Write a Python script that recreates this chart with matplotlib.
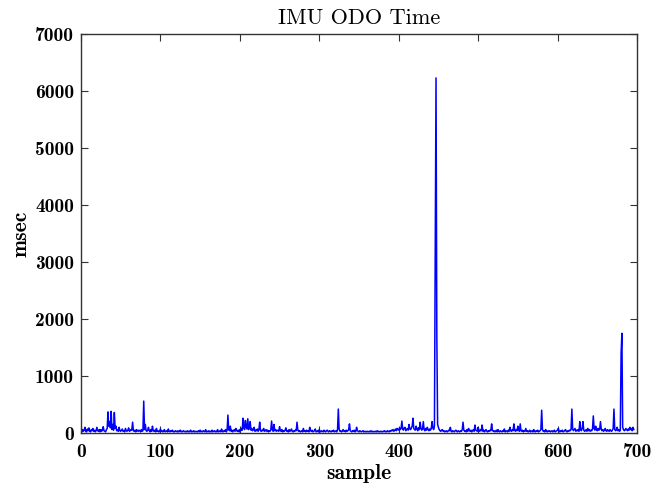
import matplotlib
matplotlib.use("Agg")
import matplotlib.pyplot as plt
import numpy as np

title = "IMU ODO Time"
xlabel = "sample"
ylabel = "msec"
xticks = [0, 100, 200, 300, 400, 500, 600, 700]
yticks = [0, 1000, 2000, 3000, 4000, 5000, 6000, 7000]

msec = [
    40, 20, 60, 30, 50, 100, 30, 20, 70, 40, 90, 30, 20, 60, 40, 80, 30, 50, 20, 40,
    100, 40, 30, 60, 20, 60, 30, 50, 110, 40, 30, 20, 60, 80, 370, 120, 200, 90, 380, 60,
    150, 50, 360, 80, 120, 40, 60, 30, 100, 40, 30, 50, 70, 30, 40, 20, 80, 40, 30, 50,
    90, 30, 40, 60, 50, 190, 40, 30, 50, 20, 60, 40, 30, 50, 40, 20, 60, 30, 40, 560,
    60, 150, 40, 30, 50, 100, 40, 20, 60, 30, 120, 40, 30, 50, 20, 80, 30, 40, 20, 30,
    70, 30, 40, 20, 30, 60, 20, 30, 40, 20, 70, 30, 20, 40, 30, 50, 20, 30, 20, 40,
    30, 20, 40, 20, 30, 50, 20, 30, 20, 40, 30, 20, 30, 20, 40, 20, 30, 20, 50, 20,
    30, 20, 40, 20, 30, 20, 30, 20, 40, 20, 50, 20, 30, 20, 40, 30, 20, 60, 20, 30,
    20, 40, 20, 30, 20, 50, 20, 30, 40, 20, 30, 20, 60, 20, 30, 40, 20, 70, 30, 20,
    40, 30, 60, 20, 50, 315, 60, 40, 120, 30, 50, 20, 40, 60, 30, 80, 40, 30, 50, 20,
    60, 40, 80, 50, 260, 90, 60, 220, 100, 70, 250, 60, 90, 200, 50, 80, 40, 60, 100, 30,
    50, 40, 70, 30, 60, 190, 40, 30, 50, 40, 80, 30, 40, 60, 30, 50, 20, 40, 30, 60,
    210, 50, 30, 150, 40, 60, 30, 50, 40, 30, 110, 40, 30, 60, 20, 40, 30, 50, 90, 30,
    40, 20, 60, 30, 40, 70, 30, 20, 40, 30, 50, 40, 190, 50, 30, 40, 20, 30, 40, 20,
    80, 30, 40, 20, 50, 30, 40, 20, 100, 40, 30, 50, 20, 30, 40, 70, 20, 30, 40, 20,
    60, 30, 20, 40, 30, 20, 50, 30, 20, 40, 50, 30, 20, 40, 30, 20, 40, 30, 50, 20,
    30, 40, 20, 60, 420, 70, 30, 40, 20, 30, 60, 30, 40, 20, 50, 30, 40, 60, 160, 40,
    30, 20, 40, 30, 50, 20, 30, 100, 40, 30, 20, 40, 30, 20, 30, 40, 20, 30, 20, 30,
    20, 30, 20, 30, 20, 40, 20, 30, 20, 30, 20, 30, 20, 40, 20, 30, 20, 30, 20, 30,
    20, 30, 40, 20, 30, 20, 40, 30, 20, 40, 30, 50, 40, 60, 30, 50, 70, 40, 80, 60,
    50, 90, 60, 80, 210, 70, 50, 90, 100, 40, 60, 80, 50, 150, 70, 60, 90, 120, 260, 80,
    60, 50, 120, 70, 40, 90, 60, 190, 80, 50, 70, 200, 60, 40, 80, 50, 100, 60, 40, 70,
    50, 80, 200, 90, 60, 120, 3000, 6230, 1700, 150, 100, 60, 40, 30, 50, 60, 30, 40, 20, 30,
    40, 20, 30, 50, 40, 100, 30, 20, 40, 30, 20, 40, 50, 30, 20, 40, 30, 20, 40, 30,
    60, 190, 50, 30, 40, 20, 60, 30, 80, 40, 30, 50, 20, 40, 60, 30, 140, 50, 40, 30,
    100, 40, 30, 60, 40, 140, 30, 50, 20, 40, 60, 30, 20, 40, 30, 50, 40, 160, 50, 30,
    40, 20, 30, 50, 20, 60, 30, 20, 40, 30, 20, 40, 30, 70, 20, 40, 30, 20, 50, 30,
    100, 40, 30, 60, 40, 160, 50, 30, 60, 40, 120, 50, 30, 160, 40, 30, 50, 20, 40, 30,
    80, 30, 40, 20, 30, 50, 20, 30, 40, 20, 60, 30, 20, 40, 30, 50, 20, 30, 40, 60,
    400, 60, 30, 40, 20, 60, 30, 20, 40, 30, 40, 20, 30, 40, 20, 30, 50, 20, 30, 40,
    50, 80, 30, 20, 40, 30, 50, 20, 30, 40, 60, 30, 20, 40, 30, 50, 40, 60, 420, 70,
    40, 60, 80, 30, 50, 40, 60, 30, 200, 60, 40, 80, 200, 50, 30, 40, 60, 30, 80, 40,
    60, 30, 50, 40, 70, 300, 80, 50, 120, 60, 40, 80, 50, 60, 200, 70, 40, 60, 30, 50,
    80, 40, 30, 60, 40, 30, 60, 40, 30, 50, 80, 420, 60, 40, 50, 100, 40, 60, 30, 50,
    1400, 1750, 100, 60, 40, 50, 80, 60, 40, 70, 50, 100, 60, 80, 40, 100, 60,
]
sample = np.arange(len(msec))

fig = plt.figure(figsize=(6.67, 4.90), dpi=100)
ax = fig.add_axes([0.1214, 0.1163, 0.8336, 0.8143])
ax.plot(sample, msec, color="#0000ff", linewidth=1.1)

ax.set_xlim(0, 700)
ax.set_ylim(0, 7000)
ax.set_xticks(xticks)
ax.set_yticks(yticks)
ax.set_xticklabels([str(v) for v in xticks], family="cmb10", fontsize=14)
ax.set_yticklabels([str(v) for v in yticks], family="cmb10", fontsize=14)
ax.tick_params(axis="both", direction="in", top=True, right=True, length=5,
               width=0.8, color="#333333")
ax.tick_params(axis="y", pad=5)
ax.tick_params(axis="x", pad=7)
for s in ax.spines.values():
    s.set_linewidth(1.0)
    s.set_color("#333333")

ax.set_title(title, family="cmr10", fontsize=16, pad=7)
ax.set_xlabel(xlabel, family="cmb10", fontsize=15.5, labelpad=2)
ax.set_ylabel(ylabel, family="cmb10", fontsize=15.5, labelpad=3)

fig.savefig("out.png", dpi=100, facecolor="white")
